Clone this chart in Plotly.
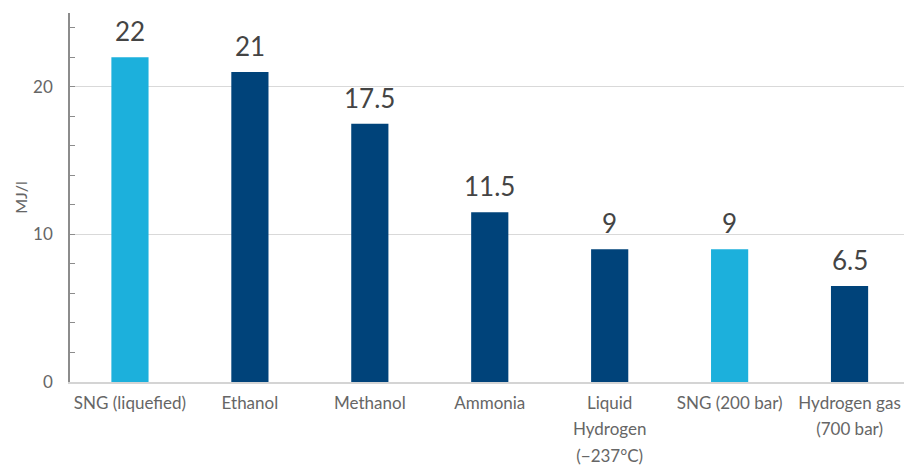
import plotly.graph_objects as go

categories = ["SNG (liquefied)", "Ethanol", "Methanol", "Ammonia",
              "Liquid<br>Hydrogen<br>(−237°C)", "SNG (200 bar)", "Hydrogen gas<br>(700 bar)"]
values = [22, 21, 17.5, 11.5, 9, 9, 6.5]
value_labels = ["22", "21", "17.5", "11.5", "9", "9", "6.5"]
highlight = [True, False, False, False, False, True, False]

LIGHT = "#1cb0dc"
DARK = "#00437a"
FONT = "Lato"

xpos = list(range(len(categories)))
colors = [LIGHT if h else DARK for h in highlight]
ticktext = ["<br>".join('<span style="font-size:17px">%s</span>' % part for part in c.split("<br>"))
            for c in categories]

fig = go.Figure()
fig.add_trace(go.Bar(x=xpos, y=values, marker=dict(color=colors, line=dict(width=0)),
                     width=0.31, hoverinfo="skip"))

for xi, v, lab in zip(xpos, values, value_labels):
    fig.add_annotation(x=xi, y=v, text=lab, showarrow=False, yanchor="bottom",
                       yshift=8, font=dict(family=FONT, size=26, color="#444444", weight=400))

fig.update_layout(
    width=904, height=468,
    margin=dict(l=69.5, r=0, t=13, b=86),
    plot_bgcolor="white", paper_bgcolor="white",
    showlegend=False,
    font=dict(family=FONT),
    xaxis=dict(
        range=[-0.5, 6.454], tickmode="array", tickvals=xpos, ticktext=ticktext,
        showline=True, linecolor="#d4d4d4", linewidth=2, ticks="",
        showgrid=False, zeroline=False, ticklabelstandoff=0,
        tickfont=dict(family=FONT, size=20.5, color="#666666", weight=400),
    ),
    yaxis=dict(
        range=[0, 25], dtick=10, tick0=0,
        showline=True, linecolor="#8c8c8c", linewidth=1.5,
        ticks="inside", ticklen=5, tickcolor="#8c8c8c",
        minor=dict(dtick=2, ticks="inside", ticklen=5, tickcolor="#8c8c8c", showgrid=False),
        showgrid=True, gridcolor="#d9d9d9", gridwidth=1, zeroline=False,
        ticklabelstandoff=12,
        tickfont=dict(family=FONT, size=17, color="#666666", weight=400),
        title=dict(text="MJ/l", font=dict(family=FONT, size=16, color="#666666", weight=400), standoff=2),
    ),
)

fig.write_html("out.html")
